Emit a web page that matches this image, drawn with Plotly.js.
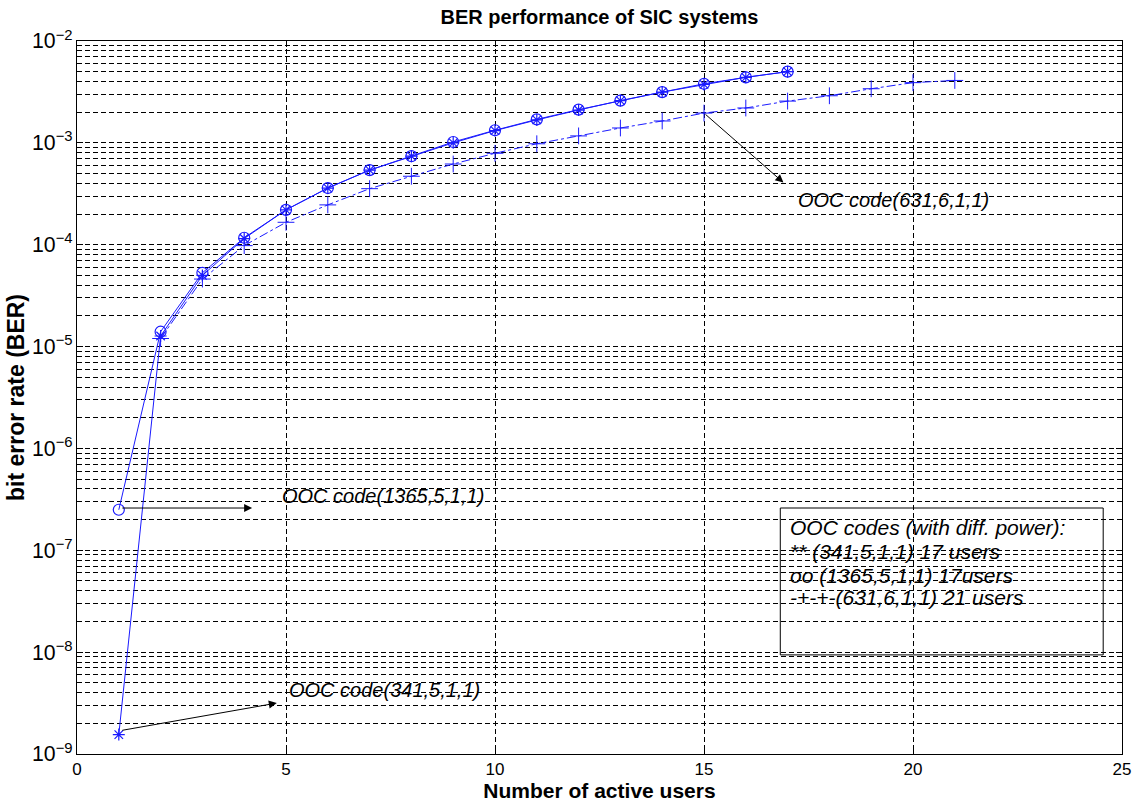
<!DOCTYPE html>
<html>
<head>
<meta charset="utf-8">
<script src="https://cdn.plot.ly/plotly-3.0.1.min.js"></script>
<style>html,body{margin:0;padding:0;background:#fff;}#chart{width:1135px;height:808px;}</style>
</head>
<body>
<div id="chart"></div>
<script>
// Data
const usersA = [1,2,3,4,5,6,7,8,9,10,11,12,13,14,15,16,17];            // OOC (341,5,1,1)
const berA   = [1.55e-9,1.27e-5,5.0e-5,1.15e-4,2.2e-4,3.6e-4,5.4e-4,7.4e-4,1.0e-3,1.32e-3,1.68e-3,2.1e-3,2.6e-3,3.15e-3,3.75e-3,4.4e-3,5.0e-3];
const usersB = [1,2,3,4,5,6,7,8,9,10,11,12,13,14,15,16,17];            // OOC (1365,5,1,1)
const berB   = [2.5e-7,1.4e-5,5.3e-5,1.17e-4,2.2e-4,3.6e-4,5.4e-4,7.4e-4,1.02e-3,1.33e-3,1.7e-3,2.12e-3,2.6e-3,3.15e-3,3.8e-3,4.4e-3,5.0e-3];
const usersC = [2,3,4,5,6,7,8,9,10,11,12,13,14,15,16,17,18,19,20,21]; // OOC (631,6,1,1)
const berC   = [1.2e-5,4.6e-5,9.8e-5,1.66e-4,2.46e-4,3.55e-4,4.7e-4,6.2e-4,7.9e-4,9.8e-4,1.17e-3,1.4e-3,1.64e-3,1.96e-3,2.2e-3,2.57e-3,2.9e-3,3.4e-3,3.9e-3,4.1e-3];

const titleText = 'BER performance of SIC systems';
const xTitle = 'Number of active users';
const yTitle = 'bit error rate (BER)';
const boxLines = ['OOC codes (with diff. power):','** (341,5,1,1) 17 users','oo (1365,5,1,1) 17users','-+-+-(631,6,1,1) 21 users'];

const blue = '#1a1aff';
const traces = [
  {x: usersC, y: berC, mode: 'lines+markers', name: '(631,6,1,1)',
   line: {color: blue, width: 1, dash: 'dashdot'},
   marker: {symbol: 'cross-thin-open', size: 12, color: blue, line: {color: blue, width: 1}}},
  {x: usersB, y: berB, mode: 'lines+markers', name: '(1365,5,1,1)',
   line: {color: blue, width: 1},
   marker: {symbol: 'circle-open', size: 11, color: blue, line: {color: blue, width: 1.2}}},
  {x: usersA, y: berA, mode: 'lines+markers', name: '(341,5,1,1)',
   line: {color: blue, width: 1},
   marker: {symbol: 'asterisk-open', size: 10, color: blue, line: {color: blue, width: 1.2}}}
];

const FONT = 'Liberation Sans, Arial, sans-serif';
const L = Math.log10;
const annFont = {family: FONT, size: 20, color: '#000'};
const boxFont = {family: FONT, size: 21, color: '#000'};
const annotations = [
  // arrows
  {x: 4.19, y: L(2.6e-7), ax: 1.05, ay: L(2.6e-7), xref:'x', yref:'y', axref:'x', ayref:'y', text:'', showarrow:true, arrowhead:2, arrowsize:1.6, arrowwidth:1, arrowcolor:'#000'},
  {x: 4.78, y: -8.5, ax: 1.05, ay: L(1.7e-9), xref:'x', yref:'y', axref:'x', ayref:'y', text:'', showarrow:true, arrowhead:2, arrowsize:1.6, arrowwidth:1, arrowcolor:'#000'},
  {x: 16.9, y: -3.39, ax: 15, ay: L(1.96e-3), xref:'x', yref:'y', axref:'x', ayref:'y', text:'', showarrow:true, arrowhead:2, arrowsize:1.6, arrowwidth:1, arrowcolor:'#000'},
  // labels
  {x: 4.86, y: -6.47, xref:'x', yref:'y', xanchor:'left', yanchor:'middle', text:'<i>OOC code(1365,5,1,1)</i>', showarrow:false, font: annFont},
  {x: 5.02, y: -8.37, xref:'x', yref:'y', xanchor:'left', yanchor:'middle', text:'<i>OOC code(341,5,1,1)</i>', showarrow:false, font: annFont},
  {x: 17.2, y: -3.56, xref:'x', yref:'y', xanchor:'left', yanchor:'middle', text:'<i>OOC code(631,6,1,1)</i>', showarrow:false, font: annFont}
];
const boxY = [0.317, 0.284, 0.251, 0.220];
boxLines.forEach((t, i) => annotations.push({
  x: 0.680, y: boxY[i], xref:'paper', yref:'paper', xanchor:'left', yanchor:'middle',
  text: '<i>' + t + '</i>', showarrow:false, font: boxFont
}));

const axisFont = {family: FONT, size: 17, color: '#000'};
const gridDash = '5px,3px';
const layout = {
  width: 1135, height: 808,
  margin: {l: 77, r: 13, t: 41, b: 54},
  paper_bgcolor: '#fff', plot_bgcolor: '#fff',
  showlegend: false,
  font: axisFont,
  title: {text: '<b>' + titleText + '</b>', x: 0.5, xref: 'paper', y: 0.979, yref: 'container', yanchor: 'middle',
          font: {family: FONT, size: 20, color: '#000'}},
  xaxis: {
    range: [0, 25], dtick: 5, tick0: 0,
    showline: true, linecolor: '#000', linewidth: 1, mirror: 'ticks',
    ticks: 'inside', ticklen: 6, tickcolor: '#000',
    showgrid: true, gridcolor: '#000', gridwidth: 1, griddash: gridDash,
    zeroline: false, tickfont: axisFont,
    title: {text: '<b>' + xTitle + '</b>', standoff: 4, font: {family: FONT, size: 21, color: '#000'}}
  },
  yaxis: {
    type: 'log', range: [-9, -2], dtick: 1, exponentformat: 'power',
    showline: true, linecolor: '#000', linewidth: 1, mirror: 'ticks',
    ticks: 'inside', ticklen: 6, tickcolor: '#000',
    showgrid: true, gridcolor: '#000', gridwidth: 1, griddash: gridDash,
    minor: {dtick: 'D1', showgrid: true, gridcolor: '#000', gridwidth: 1, griddash: gridDash, ticks: 'inside', ticklen: 3, tickcolor: '#000'},
    zeroline: false, tickfont: axisFont,
    title: {text: '<b>' + yTitle + '</b>', standoff: 0, font: {family: FONT, size: 23, color: '#000'}}
  },
  shapes: [
    {type: 'rect', xref: 'paper', yref: 'paper', x0: 0.673, x1: 0.982, y0: 0.139, y1: 0.345,
     line: {color: '#000', width: 1}, fillcolor: 'rgba(0,0,0,0)'}
  ],
  annotations: annotations
};

Plotly.newPlot('chart', traces, layout, {displayModeBar: false, staticPlot: true});
</script>
</body>
</html>
